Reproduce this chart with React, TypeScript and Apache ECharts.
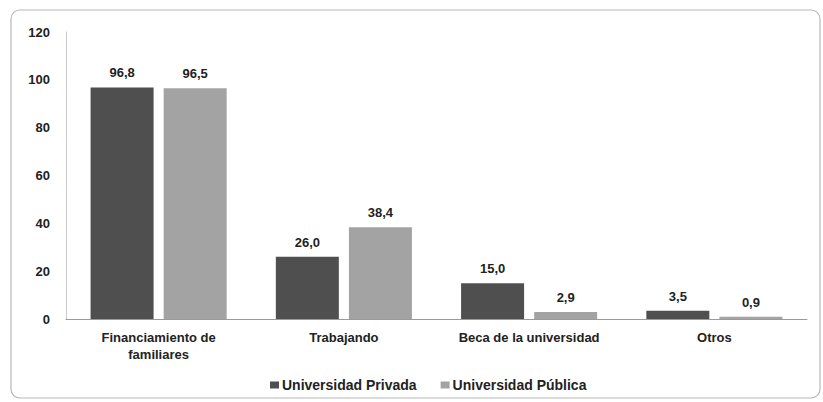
import React, { useEffect, useRef } from "react";
import * as echarts from "echarts";

const categories = ["Financiamiento de\nfamiliares", "Trabajando", "Beca de la universidad", "Otros"];
const seriesNames = ["Universidad Privada", "Universidad Pública"];
const privada = [96.8, 26.0, 15.0, 3.5];
const publica = [96.5, 38.4, 2.9, 0.9];
const yTicks = { min: 0, max: 120, interval: 20 };

const fmt = (v: number) => v.toFixed(1).replace(".", ",");

export default function App() {
  const ref = useRef<HTMLDivElement>(null);
  useEffect(() => {
    if (!ref.current) return;
    const chart = echarts.init(ref.current, undefined, { renderer: "svg" });
    const font = "Liberation Sans, Arial, sans-serif";
    const txt = { color: "#222222", fontSize: 13, fontWeight: "bold" as const, fontFamily: font };
    chart.setOption({
      animation: false,
      backgroundColor: "#ffffff",
      textStyle: { fontFamily: font },
      graphic: [
        {
          type: "rect",
          shape: { x: 11, y: 10, width: 809, height: 388, r: 9 },
          style: { fill: "none", stroke: "#b8b8b8", lineWidth: 1.2 },
          silent: true,
        },
      ],
      grid: { left: 66, right: 16, top: 32, bottom: 83, containLabel: false },
      legend: {
        top: 373,
        left: 265,
        itemWidth: 9,
        itemHeight: 7,
        itemGap: 24,
        icon: "rect",
        textStyle: { ...txt, fontSize: 14, padding: [0, 0, 0, -2] },
        data: seriesNames,
      },
      xAxis: {
        type: "category",
        data: categories,
        axisLine: { show: true, lineStyle: { color: "#9a9a9a", width: 1 } },
        axisTick: { show: false },
        axisLabel: { ...txt, margin: 10, lineHeight: 17, interval: 0 },
      },
      yAxis: {
        type: "value",
        min: yTicks.min,
        max: yTicks.max,
        interval: yTicks.interval,
        axisLine: { show: true, lineStyle: { color: "#c8c8c8", width: 1 } },
        axisTick: { show: false },
        splitLine: { show: false },
        axisLabel: { ...txt, margin: 16 },
      },
      series: [
        {
          name: seriesNames[0],
          type: "bar",
          data: privada,
          barWidth: 63,
          barGap: "16%",
          itemStyle: { color: "#4f4f4f" },
          label: { show: true, position: "top", distance: 8, ...txt, formatter: (p: any) => fmt(p.value) },
        },
        {
          name: seriesNames[1],
          type: "bar",
          data: publica,
          barWidth: 63,
          barGap: "16%",
          itemStyle: { color: "#a3a3a3" },
          label: { show: true, position: "top", distance: 8, ...txt, formatter: (p: any) => fmt(p.value) },
        },
      ],
    });
    return () => chart.dispose();
  }, []);
  return (
    <div
      ref={ref}
      style={{ position: "absolute", left: 0, top: 0, width: 823, height: 402 }}
    />
  );
}
